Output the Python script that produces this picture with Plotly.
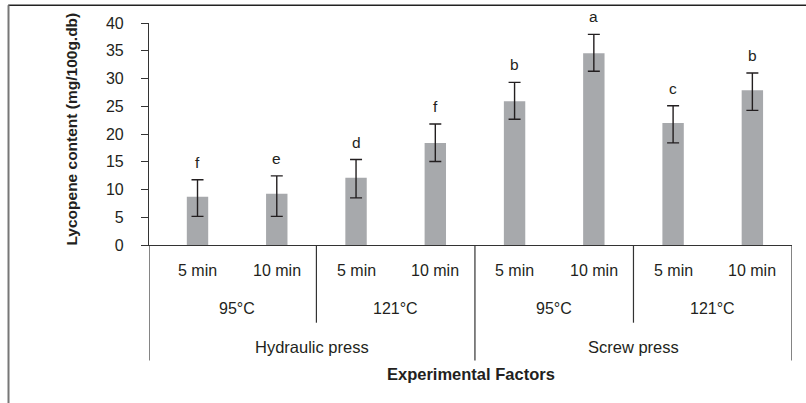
import plotly.graph_objects as go

times = ["5 min", "10 min", "5 min", "10 min", "5 min", "10 min", "5 min", "10 min"]
temps = ["95°C", "121°C", "95°C", "121°C"]
presses = ["Hydraulic press", "Screw press"]
values = [8.7, 9.25, 12.1, 18.4, 25.9, 34.55, 22.0, 27.9]
err_plus = [3.05, 3.2, 3.3, 3.4, 3.4, 3.4, 3.1, 3.1]
err_minus = [3.55, 4.1, 3.6, 3.35, 3.25, 3.25, 3.6, 3.65]
letters = ["f", "e", "d", "f", "b", "a", "c", "b"]

FONT = "Arial, 'Liberation Sans', Helvetica, sans-serif"
TXT = "#231f20"
x = list(range(len(values)))

fig = go.Figure()
fig.add_trace(go.Bar(
    x=x, y=values, width=0.27,
    marker=dict(color="#a7a9ac", line=dict(width=0)),
    error_y=dict(type="data", symmetric=False, array=err_plus, arrayminus=err_minus,
                 color=TXT, thickness=1.4, width=6),
    showlegend=False, hoverinfo="skip",
))

ann = []
for i, (v, e, l) in enumerate(zip(values, err_plus, letters)):
    ann.append(dict(x=i, y=v + e, xref="x", yref="y", text=l, showarrow=False,
                    yanchor="bottom", yshift=7, font=dict(size=15.5, color=TXT, family=FONT)))
for i, t in enumerate(times):
    ann.append(dict(x=i, y=-0.114, xref="x", yref="paper", text=t, showarrow=False,
                    yanchor="middle", font=dict(size=16, color=TXT, family=FONT)))
for j, t in enumerate(temps):
    ann.append(dict(x=2 * j + 0.5, y=-0.285, xref="x", yref="paper", text=t, showarrow=False,
                    yanchor="middle", font=dict(size=16, color=TXT, family=FONT)))
XMIN, XMAX = -0.612, 7.5
press_centers = [(XMIN + 3.5) / 2, 5.5]
for c, p in zip(press_centers, presses):
    ann.append(dict(x=c, y=-0.46, xref="x", yref="paper", text=p, showarrow=False,
                    yanchor="middle", font=dict(size=16.5, color=TXT, family=FONT)))
ann.append(dict(x=(XMIN + XMAX) / 2, y=-0.582, xref="x", yref="paper",
                text="<b>Experimental Factors</b>", showarrow=False, yanchor="middle",
                font=dict(size=16.5, color=TXT, family=FONT)))
ann.append(dict(x=0, y=0.52, xref="paper", yref="paper", xshift=-77,
                text="<b>Lycopene content (mg/100g.db)</b>", textangle=-90, showarrow=False,
                xanchor="center", yanchor="middle",
                font=dict(size=15.5, color=TXT, family=FONT)))

shapes = []
line_style = dict(color="#333333", width=1.2)
for b in [1.5, 5.5]:
    shapes.append(dict(type="line", xref="x", yref="paper", x0=b, x1=b, y0=0, y1=-0.35, line=line_style))
for b in [XMIN, 3.5, XMAX]:
    shapes.append(dict(type="line", xref="x", yref="paper", x0=b, x1=b, y0=0, y1=-0.52, line=line_style))
shapes.append(dict(type="line", xref="paper", yref="paper", x0=-0.219, x1=1.03, y0=1.08, y1=1.08,
                   line=dict(color="#222222", width=1.6)))
shapes.append(dict(type="line", xref="paper", yref="paper", x0=-0.2185, x1=-0.2185, y0=1.08, y1=-0.75,
                   line=dict(color="#777777", width=2)))

fig.update_layout(
    width=806, height=403,
    margin=dict(l=149, r=14, t=23, b=158),
    paper_bgcolor="white", plot_bgcolor="white",
    font=dict(family=FONT, size=15, color=TXT),
    xaxis=dict(range=[XMIN, XMAX], showticklabels=False, ticks="", showgrid=False, zeroline=False,
               showline=True, linecolor="#333333", linewidth=1.2, fixedrange=True),
    yaxis=dict(range=[0, 40], tickvals=[0, 5, 10, 15, 20, 25, 30, 35, 40], showgrid=False, zeroline=False,
               showline=True, linecolor="#333333", linewidth=1.2, ticks="outside", ticklen=7,
               tickcolor="#333333", tickwidth=1.2, ticklabelstandoff=14,
               tickfont=dict(size=16, color=TXT, family=FONT)),
    annotations=ann, shapes=shapes, bargap=0.7,
)

fig.write_html("out.html")
